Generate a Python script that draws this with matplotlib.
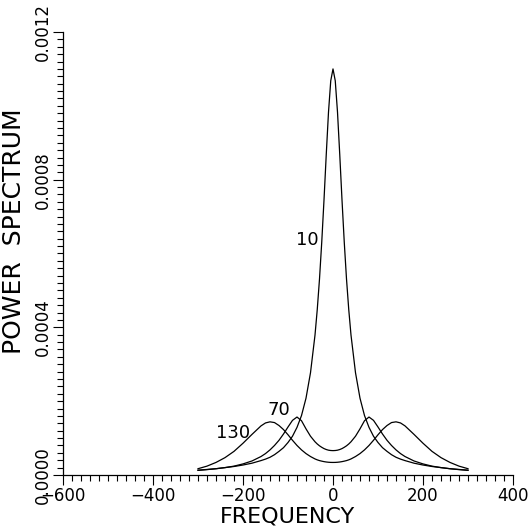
import numpy as np
import matplotlib
matplotlib.use('Agg')
import matplotlib.pyplot as plt
from matplotlib.ticker import MultipleLocator

# frequency grid
freq = [-300, -280, -260, -240, -220, -200, -180, -160, -150, -140, -130, -120, -110, -100,
        -90, -80, -70, -60, -50, -40, -35, -30, -25, -20, -15, -10, -5, 0,
        5, 10, 15, 20, 25, 30, 35, 40, 50, 60, 70, 80, 90, 100,
        110, 120, 130, 140, 150, 160, 180, 200, 220, 240, 260, 280, 300]

# power spectrum values, units of 1e-4
s10 = [0.125, 0.145, 0.17, 0.20, 0.23, 0.27, 0.32, 0.39, 0.43, 0.48, 0.55, 0.64, 0.74, 0.88,
       1.05, 1.29, 1.61, 2.08, 2.77, 3.79, 4.48, 5.31, 6.31, 7.45, 8.68, 9.83, 10.68, 11.00,
       10.68, 9.83, 8.68, 7.45, 6.31, 5.31, 4.48, 3.79, 2.77, 2.08, 1.61, 1.29, 1.05, 0.88,
       0.74, 0.64, 0.55, 0.48, 0.43, 0.39, 0.32, 0.27, 0.23, 0.20, 0.17, 0.145, 0.125]
s70 = [0.13, 0.15, 0.17, 0.20, 0.24, 0.30, 0.38, 0.50, 0.58, 0.68, 0.80, 0.94, 1.11, 1.30,
       1.48, 1.57, 1.47, 1.25, 1.05, 0.90, 0.84, 0.79, 0.75, 0.715, 0.69, 0.672, 0.663, 0.66,
       0.663, 0.672, 0.69, 0.715, 0.75, 0.79, 0.84, 0.90, 1.05, 1.25, 1.47, 1.57, 1.48, 1.30,
       1.11, 0.94, 0.80, 0.68, 0.58, 0.50, 0.38, 0.30, 0.24, 0.20, 0.17, 0.15, 0.13]
s130 = [0.17, 0.24, 0.34, 0.47, 0.64, 0.86, 1.10, 1.33, 1.41, 1.44, 1.42, 1.34, 1.23, 1.09,
        0.94, 0.80, 0.68, 0.58, 0.50, 0.435, 0.41, 0.39, 0.375, 0.362, 0.352, 0.345, 0.341, 0.34,
        0.341, 0.345, 0.352, 0.362, 0.375, 0.39, 0.41, 0.435, 0.50, 0.58, 0.68, 0.80, 0.94, 1.09,
        1.23, 1.34, 1.42, 1.44, 1.41, 1.33, 1.10, 0.86, 0.64, 0.47, 0.34, 0.24, 0.17]

curves = [('10', s10, -58, 0.000637), ('70', s70, -120, 0.000176), ('130', s130, -222, 0.000114)]

fig = plt.figure(figsize=(5.32, 5.29), dpi=100)
ax = fig.add_axes([0.1184, 0.1021, 0.8459, 0.8374])

f = np.array(freq)
for name, s, lx, ly in curves:
    ax.plot(f, np.array(s) * 1e-4, 'k-', lw=0.9)
    ax.text(lx, ly, name, fontsize=13, ha='center', va='center')

ax.set_xlim(-600, 400)
ax.set_ylim(0, 0.0012)
ax.xaxis.set_minor_locator(MultipleLocator(20))
ax.yaxis.set_minor_locator(MultipleLocator(0.00002))
ax.set_xticks([-600, -400, -200, 0, 200, 400])
ax.set_xticklabels(['\u2212600', '\u2212400', '\u2212200', '0', '200', '400'], fontsize=12)
ax.set_yticks([0, 0.0004, 0.0008, 0.0012])
ax.set_yticklabels(['0.0000', '0.0004', '0.0008', '0.0012'], fontsize=12,
                   rotation=90, va='center')
ax.tick_params(which='major', length=7, width=0.8, pad=2)
ax.tick_params(which='minor', length=4, width=0.8)
ax.tick_params(axis='y', pad=1)

for side in ['top', 'right']:
    ax.spines[side].set_visible(False)
for side in ['left', 'bottom']:
    ax.spines[side].set_linewidth(0.9)

ax.set_xlabel('FREQUENCY', fontsize=16, labelpad=1)
ax.set_ylabel('POWER  SPECTRUM', fontsize=18)
ax.yaxis.set_label_coords(-0.082, 0.55)

fig.savefig('out.png', dpi=100)
